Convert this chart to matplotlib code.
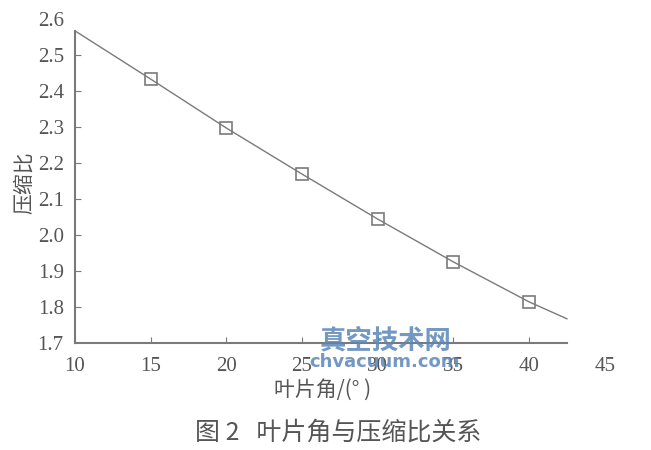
import matplotlib.pyplot as plt

plt.rcParams['font.family'] = ['Liberation Serif', 'Noto Sans CJK SC']

# data
angle = [15, 20, 25, 30, 35, 40]
ratio = [2.433, 2.297, 2.169, 2.044, 1.925, 1.814]
# curve drawn through the points, with its two visible ends
curve_x = [10, 15, 20, 25, 30, 35, 40, 42.5]
curve_y = [2.567, 2.433, 2.297, 2.169, 2.044, 1.925, 1.814, 1.767]

xticks = [10, 15, 20, 25, 30, 35, 40, 45]
yticks = [1.7, 1.8, 1.9, 2.0, 2.1, 2.2, 2.3, 2.4, 2.5, 2.6]

gray = '#7a7a7a'
txt = '#555555'
cjk = ['Noto Sans CJK SC', 'DejaVu Sans']

fig = plt.figure(figsize=(6.51, 4.5), dpi=100)
ax = fig.add_axes([0.115, 0.238, 0.814, 0.72])

ax.plot(curve_x, curve_y, color=gray, lw=1.0)
ax.plot(angle, ratio, ls='none', marker='s', ms=8, mfc='none', mec=gray, mew=1.2)

ax.set_xlim(10, 45)
ax.set_ylim(1.7, 2.6)
ax.set_xticks(xticks)
ax.set_yticks(yticks)
ax.set_xticklabels([str(v) for v in xticks])
ax.set_yticklabels(['%.1f' % v for v in yticks])

for s in ['top', 'right']:
    ax.spines[s].set_visible(False)
ax.spines['bottom'].set_bounds(10, 42.5)
ax.spines['left'].set_bounds(1.7, 2.567)
for s in ['left', 'bottom']:
    ax.spines[s].set_color(gray)
    ax.spines[s].set_linewidth(1.5)

ax.tick_params(direction='in', length=4, color=gray, labelcolor=txt, labelsize=15)
ax.tick_params(axis='x', pad=10)
ax.tick_params(axis='y', pad=8)
ax.xaxis.get_major_ticks()[-1].tick1line.set_visible(False)
ax.xaxis.get_major_ticks()[0].tick1line.set_visible(False)
ax.yaxis.get_major_ticks()[0].tick1line.set_visible(False)
ax.yaxis.get_major_ticks()[-1].tick1line.set_visible(False)

# axis titles
fig.text(0.495, 1 - 390 / 450, '叶片角/(° )', fontsize=15, color=txt, ha='center',
         va='center', family=cjk)
fig.text(24 / 651, 1 - 183 / 450, '压缩比', fontsize=15, color=txt, ha='center',
         va='center', rotation=90, family=cjk)

fig.text(0.52, 1 - 433 / 450, '图 2   叶片角与压缩比关系', fontsize=18, color=txt,
         ha='center', va='center', family=cjk)

# watermark
fig.text(386 / 651, 1 - 341 / 450, '真空技术网', fontsize=19, color='#5b86b8', alpha=0.85,
         ha='center', va='center', weight='bold', family=cjk)
fig.text(385 / 651, 1 - 362 / 450, 'chvacuum.com', fontsize=13, color='#5b86b8', alpha=0.85,
         ha='center', va='center', weight='bold', family=['DejaVu Sans'])

fig.savefig('out.png', dpi=100)
